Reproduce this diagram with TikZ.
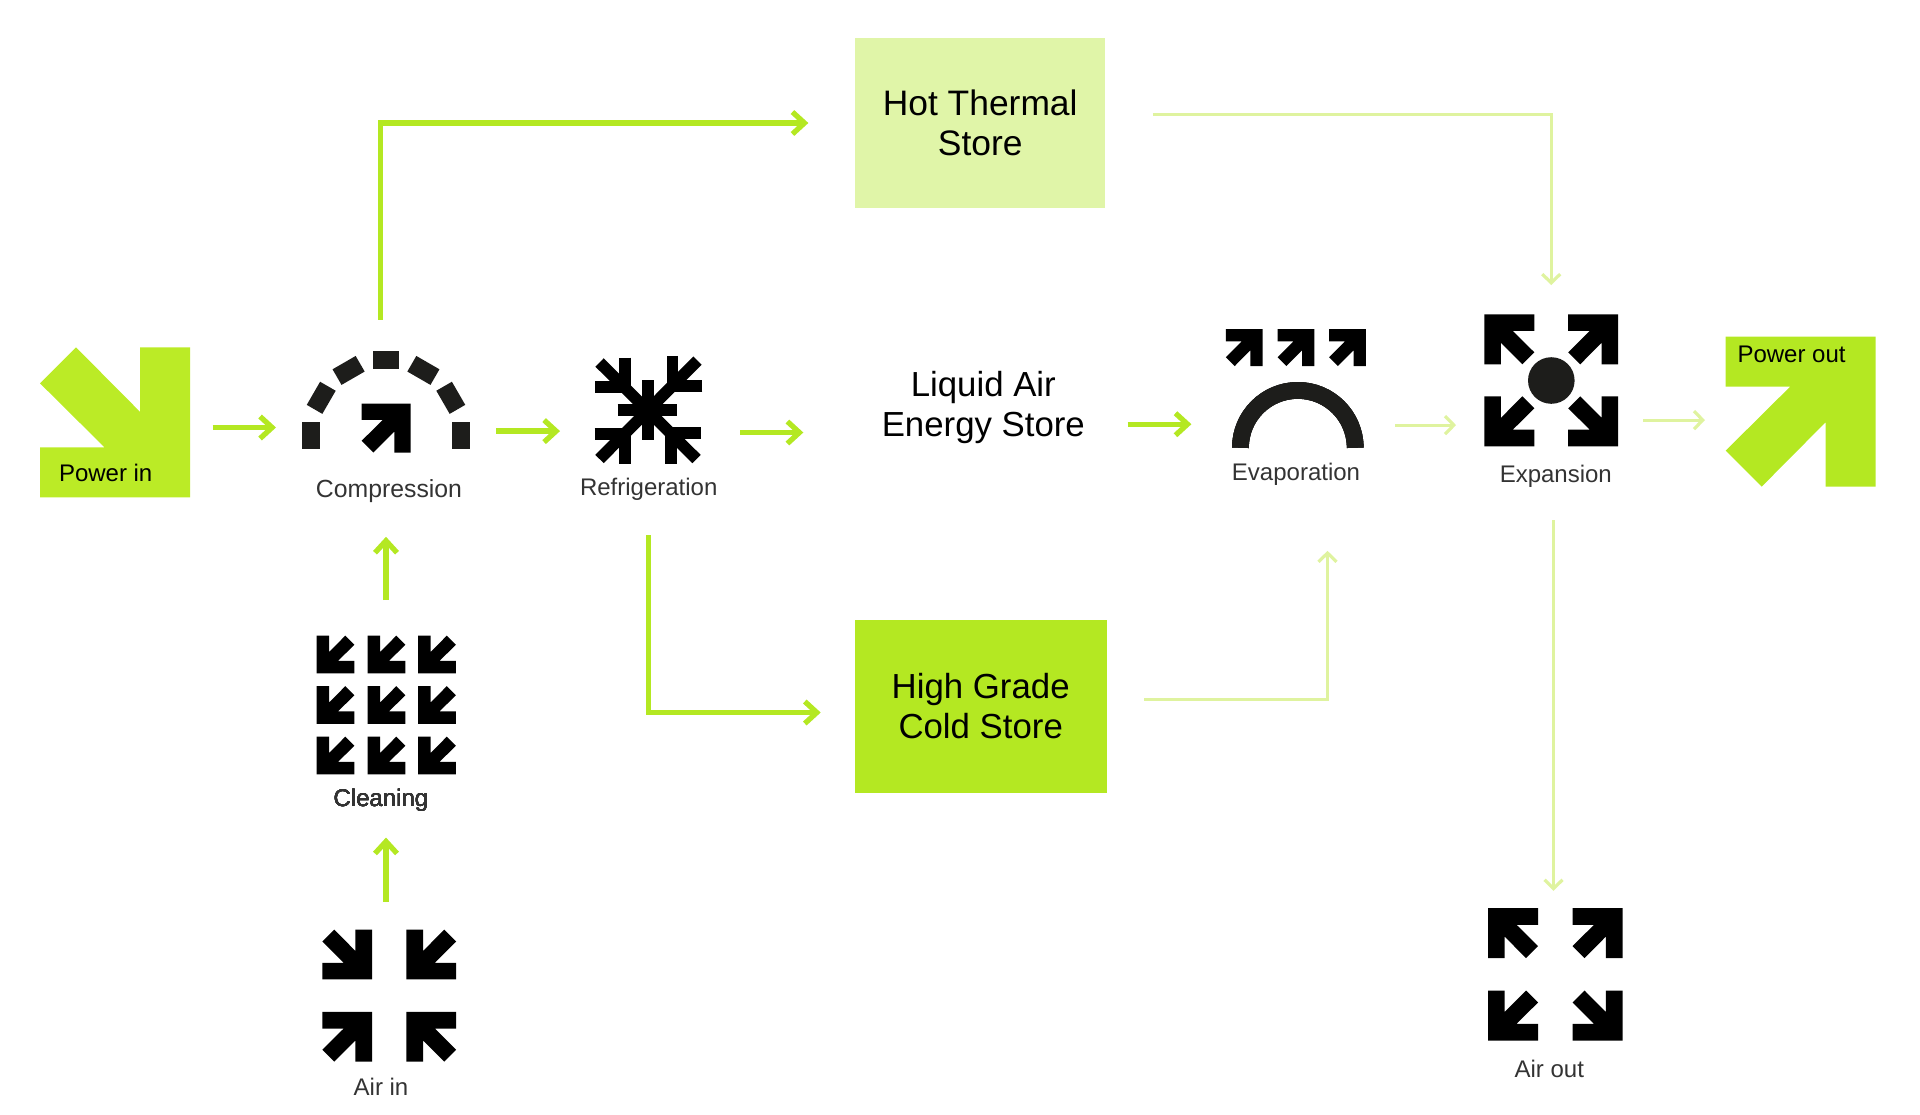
\documentclass[tikz,border=0pt]{standalone}
\usepackage{fontspec}
\setmainfont{Liberation Sans}
\usetikzlibrary{arrows.meta}
\definecolor{lime}{HTML}{B4E822}
\definecolor{limein}{HTML}{BBEB26}
\definecolor{pale}{HTML}{E0F5A8}
\definecolor{paleline}{HTML}{DFF39F}
\definecolor{ink}{HTML}{000000}
\definecolor{soft}{HTML}{1D1D1B}
\definecolor{labelink}{HTML}{333333}
\newcommand{\arw}[5]{\fill[#5,shift={(#1,#2)},rotate=#4,scale=#3]
  (-.5,-.5)--(.5,-.5)--(.5,.5)--(.1667,.5)--(.1667,.07)--(-.26,.5)--(-.5,.26)--(-.07,-.1667)--(-.5,-.1667)--cycle;}
\tikzset{
  icon/.style 2 args={minimum width=#1*0.5pt,minimum height=#2*0.5pt,inner sep=0pt,outer sep=0pt},
  lab/.style={anchor=base,font=\fontsize{12}{14}\selectfont,inner sep=0pt,outer sep=0pt,text=labelink},
  tag/.style={anchor=base west,font=\fontsize{12}{14}\selectfont,inner sep=0pt,outer sep=0pt,text=black},
  big/.style={align=center,font=\fontsize{17.4}{20}\selectfont,inner sep=0pt,outer sep=0pt,text=black},
  gaps/.style 2 args={shorten <=#1*0.5pt,shorten >=#2*0.5pt},
  heavy/.style={draw=lime,line width=2.65pt,line join=miter,-{Straight Barb[length=6pt,width=11pt,line width=2.65pt]}},
  paleconn/.style={draw=paleline,line width=1.6pt,line join=miter,-{Straight Barb[length=4.4pt,width=9pt,line width=1.6pt]}},
  snow/.style={draw=ink,line width=5.85pt}
}
\begin{document}
\begin{tikzpicture}[x=0.5pt,y=-0.5pt]
\useasboundingbox (0,0) rectangle (1920,1114);
\begin{scope}[yshift=-0.4pt]

% stores
\node[big,font=\fontsize{17.7}{20}\selectfont,fill=pale,icon={250.3}{170}] (hot) at (980.2,122.2) {Hot Thermal\\Store};
\node[big,fill=lime,icon={252}{172.7}] (cold) at (980.7,705.6) {High Grade\\Cold Store};
\node[big,icon={250}{90}] (liquid) at (983.3,407) {Liquid Air\\Energy Store};

% power in
\node[icon={150}{150}] (powerin) at (115,421.5) {};
\arw{115}{421.5}{150}{-90}{limein}
\node[tag] (powerinlab) at (59,481) {Power in};

% compression
\node[icon={168}{102}] (comp) at (386,401) {};
\foreach \a in {0,30,...,180}
  \fill[soft,shift={({386+74.8*cos(\a)},{434.4-74.8*sin(\a)})},rotate=\a] (-9,-13.35) rectangle (9,13.35);
\arw{386.2}{427.2}{49}{0}{ink}
\node[lab,font=\fontsize{12.4}{14}\selectfont] (complab) at (389,496.7) {Compression};

% refrigeration
\node[icon={107.6}{108}] (refrig) at (648.5,409) {};
\draw[snow] (648.3,379.3) -- (648.3,439.3);
\draw[snow] (617.7,409.3) -- (677.3,409.3);
\draw[snow] (599.5,361.7) -- (696.5,458.2);
\draw[snow] (697.5,359.8) -- (599.5,458.2);
\draw[snow] (624.8,356.7) -- (624.8,386.5);
\draw[snow] (595,386.5) -- (624.8,386.5);
\draw[snow] (672.5,355) -- (672.5,385.2);
\draw[snow] (702.3,385.2) -- (672.5,385.2);
\draw[snow] (594.7,433.2) -- (624.8,433.2);
\draw[snow] (624.8,462.7) -- (624.8,433.2);
\draw[snow] (700.7,432.5) -- (671,432.5);
\draw[snow] (671,462.7) -- (671,432.5);
\node[lab] (refriglab) at (648.7,494.3) {Refrigeration};

% cleaning
\node[icon={139.4}{138.3}] (clean) at (386,704.2) {};
\foreach \cx in {335.5,386.5,437}
  \foreach \cy in {653.7,704.2,754.7}
    \arw{\cx}{\cy}{37.7}{180}{ink}
\node[lab] (cleanlab) at (381,805.5) {Cleaning};

% air in
\node[icon={134}{131.7}] (airin) at (389.3,994.9) {};
\arw{347.2}{953.7}{49.7}{-90}{ink}
\arw{431.3}{953.7}{49.7}{180}{ink}
\arw{347.2}{1036}{49.7}{0}{ink}
\arw{431.3}{1036}{49.7}{90}{ink}
\node[lab] (airinlab) at (381,1095) {Air in};

% evaporation
\node[icon={140}{119}] (evap) at (1296,387.5) {};
\foreach \cx in {1244.3,1296,1347.5}
  \arw{\cx}{346.8}{36.8}{0}{ink}
\draw[soft,line width=8.4pt] (1240.4,447) arc[start angle=180,end angle=0,radius=28.7pt];
\node[lab] (evaplab) at (1296,480) {Evaporation};

% expansion
\node[icon={133.7}{131.6}] (exp) at (1551.2,379.5) {};
\arw{1509.3}{338.5}{50}{90}{ink}
\arw{1593.2}{338.5}{50}{0}{ink}
\arw{1509.3}{420.5}{50}{180}{ink}
\arw{1593.2}{420.5}{50}{-90}{ink}
\fill[soft] (1551.3,379.7) circle[radius=11.65pt];
\node[lab] (explab) at (1555.8,481.7) {Expansion};

% power out
\node[icon={150}{150}] (powerout) at (1800.7,410.8) {};
\arw{1800.7}{410.8}{150}{0}{lime}
\node[tag] (poweroutlab) at (1737.5,361.7) {Power out};

% air out
\node[icon={134.3}{132.4}] (airout) at (1555.2,973.5) {};
\arw{1513}{932.3}{50}{90}{ink}
\arw{1597.5}{932.3}{50}{0}{ink}
\arw{1513}{1014.7}{50}{180}{ink}
\arw{1597.5}{1014.7}{50}{-90}{ink}
\node[lab] (airoutlab) at (1549.3,1076.7) {Air out};

% connectors
\draw[heavy,gaps={22.7}{26}] (powerin.east |- 0,426.7) -- (comp.west |- 0,426.7);
\draw[heavy,gaps={26}{34.7}] (comp.east |- 0,430.3) -- (refrig.west |- 0,430.3);
\draw[heavy,gaps={37.7}{55}] (refrig.east |- 0,431.7) -- (liquid.west |- 0,431.7);
\draw[heavy,gaps={35.7}{84}] (clean.north) -- (comp.south);
\draw[heavy,gaps={28.3}{63.4}] (clean.south |- airin.north) -- (clean.south);
\draw[heavy,gaps={31}{46.7}] (380.7,0 |- comp.north) |- (hot.west);
\draw[heavy,gaps={71.3}{34}] (648.3,0 |- refrig.south) |- (cold.west |- 0,711.7);
\draw[heavy,gaps={19.2}{34.6}] (liquid.east |- 0,423.4) -- (evap.west |- 0,423.4);
\draw[paleconn,gaps={29.3}{28.3}] (evap.east |- 0,424.3) -- (exp.west |- 0,424.3);
\draw[paleconn,gaps={25.3}{20.7}] (exp.east |- 0,419.3) -- (powerout.west |- 0,419.3);
\draw[paleconn,gaps={47.4}{29.4}] (hot.east |- 0,114) -| (exp.north);
\draw[paleconn,gaps={37.3}{103}] (cold.east |- 0,698.7) -| (1327.5,0 |- evap.south);
\draw[paleconn,gaps={74.2}{17.3}] (1553.5,0 |- exp.south) -- (1553.5,0 |- airout.north);
\end{scope}
\end{tikzpicture}
\end{document}
